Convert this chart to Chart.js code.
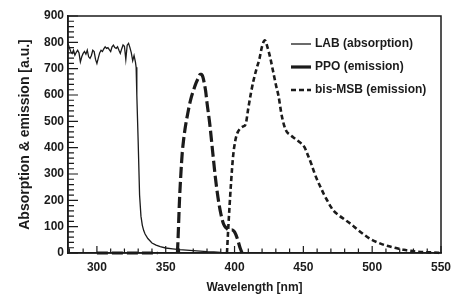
<!DOCTYPE html>
<html>
<head>
<meta charset="utf-8">
<script src="https://cdn.jsdelivr.net/npm/chart.js@4/dist/chart.umd.min.js"></script>
<style>
html,body{margin:0;padding:0;background:#fff;}
#wrap{position:relative;width:467px;height:307px;}
</style>
</head>
<body>
<div id="wrap"><canvas id="c" width="467" height="307"></canvas></div>
<script>
// ---- data ----
const labWavelength = [279,280,281,282,283,284,285,286,287,288,289,290,291,292,293,294,295,296,297,298,299,300,301,302,303,304,305,306,307,308,309,310,311,312,313,314,315,316,317,318,319,320,321,322,323,324,325,326,327,328,328.5,329,330,331,332,333,334,335,337,340,343,346,350,355,360,365,370,375,380,385,390,395];
const labAbsorption = [795,780,765,758,770,751,762,770,760,726,745,758,765,755,770,745,739,750,770,765,735,720,740,760,770,765,775,783,777,780,772,765,783,789,780,777,783,770,758,775,790,785,735,789,796,780,760,730,750,725,705,600,420,220,140,105,85,72,55,38,30,24,19,16,13,11,9,7,5,4,2,1];

const ppoWavelength = [300,344,null,358.5,359,360,361,362,363,364,366,368,370,372,374,375,376,377,378,379,380,382,384,386,388,390,392,394,396,398,400,402,404,405.5];
const ppoEmission = [0,0,null,0,60,200,300,380,430,470,530,580,615,645,668,678,678,668,645,615,570,490,390,290,210,150,110,95,88,88,80,55,20,0];

const bisWavelength = [394.5,395.5,397.5,399,400.5,402,404,406,408,410,412,414,416,418,420,422,424,426,428,430,432,434,436,438,440,442,445,448,451,453,456,458,460,462.5,465,467.5,470,472,476,480,485,489,494,499,504,509,514,518,523,528,533,538,544,550];
const bisEmission = [0,100,270,370,425,455,472,480,488,550,610,660,700,735,785,808,780,740,690,640,595,530,485,460,450,442,430,418,400,375,335,305,278,250,222,198,175,160,142,127,108,90,70,52,40,30,23,18,12,8,5,3,2,0];

const seriesNames = ['LAB (absorption)','PPO (emission)','bis-MSB (emission)'];
const xTickLabels = [300,350,400,450,500,550];
const yTickLabels = [0,100,200,300,400,500,600,700,800,900];
const xTitle = 'Wavelength [nm]';
const yTitle = 'Absorption & emission [a.u.]';

function pts(xs, ys){ return xs.map((x,i)=> x===null ? {x:NaN,y:null} : {x:x,y:ys[i]}); }

const INK = '#1b1b1b';
const FONT = "'Liberation Sans', Arial, sans-serif";

const styles = [
  {width:1.3, dash:[]},
  {width:3.2, dash:[11,4]},
  {width:2.6, dash:[5,3]}
];

const boxAndTicks = {
  id:'boxAndTicks',
  afterDraw(chart){
    const ctx = chart.ctx, a = chart.chartArea;
    const xs = chart.scales.x, ys = chart.scales.y;
    ctx.save();
    ctx.strokeStyle = INK;
    ctx.lineWidth = 1.5;
    ctx.strokeRect(a.left, a.top, a.right - a.left, a.bottom - a.top);
    ctx.lineWidth = 1.2;
    ctx.beginPath();
    xs.ticks.forEach(t=>{
      const px = xs.getPixelForValue(t.value);
      const major = xTickLabels.includes(t.value);
      const len = major ? 7 : 4.5;
      ctx.moveTo(px, a.bottom); ctx.lineTo(px, a.bottom - len);
    });
    ys.ticks.forEach(t=>{
      const py = ys.getPixelForValue(t.value);
      const major = yTickLabels.includes(t.value);
      const len = major ? 10 : 6;
      ctx.moveTo(a.left, py); ctx.lineTo(a.left + len, py);
    });
    ctx.stroke();
    // legend
    const lx0 = 291, lx1 = 311, tx = 315;
    const rows = [44, 67, 90];
    ctx.font = "bold 12px " + FONT;
    ctx.fillStyle = INK;
    ctx.textBaseline = 'middle';
    rows.forEach((y,i)=>{
      ctx.beginPath();
      ctx.lineWidth = styles[i].width;
      ctx.setLineDash(i===1 ? [] : styles[i].dash);
      ctx.moveTo(lx0, y); ctx.lineTo(lx1, y);
      ctx.stroke();
      ctx.setLineDash([]);
      ctx.fillText(seriesNames[i], tx, y);
    });
    ctx.restore();
  }
};

new Chart(document.getElementById('c'), {
  type:'line',
  data:{
    datasets:[
      {label:seriesNames[0], data:pts(labWavelength, labAbsorption), borderColor:INK, borderWidth:styles[0].width, borderDash:styles[0].dash, pointRadius:0, tension:0, fill:false, spanGaps:false, clip:false},
      {label:seriesNames[1], data:pts(ppoWavelength, ppoEmission), borderColor:INK, borderWidth:styles[1].width, borderDash:styles[1].dash, pointRadius:0, cubicInterpolationMode:'monotone', fill:false, spanGaps:false, clip:false},
      {label:seriesNames[2], data:pts(bisWavelength, bisEmission), borderColor:INK, borderWidth:styles[2].width, borderDash:styles[2].dash, pointRadius:0, cubicInterpolationMode:'monotone', fill:false, spanGaps:false, clip:false}
    ]
  },
  options:{
    responsive:false,
    animation:false,
    devicePixelRatio:1,
    layout:{padding:{left:0, right:26, top:16, bottom:0}},
    plugins:{legend:{display:false}, tooltip:{enabled:false}},
    scales:{
      x:{
        type:'linear', min:279, max:550,
        afterFit(s){ s.height = 54; },
        ticks:{stepSize:10, includeBounds:false, autoSkip:false, maxRotation:0, padding:7,
          color:INK, font:{family:FONT, size:12, weight:'bold'},
          callback:(v)=> xTickLabels.includes(v) ? String(v) : ''},
        grid:{display:false, drawTicks:false},
        border:{display:true, color:INK, width:1.5},
        title:{display:true, text:xTitle, color:INK, font:{family:FONT, size:12, weight:'bold'}, padding:{top:0,bottom:12}}
      },
      y:{
        type:'linear', min:0, max:900,
        afterFit(s){ s.width = 68; },
        ticks:{stepSize:20, includeBounds:false, autoSkip:false, padding:4,
          color:INK, font:{family:FONT, size:12, weight:'bold'},
          callback:(v)=> yTickLabels.includes(v) ? String(v) : ''},
        grid:{display:false, drawTicks:false},
        border:{display:true, color:INK, width:1.5},
        title:{display:true, text:yTitle, color:INK, font:{family:FONT, size:14, weight:'bold'}, padding:{top:17,bottom:0}}
      }
    }
  },
  plugins:[boxAndTicks]
});
</script>
</body>
</html>
